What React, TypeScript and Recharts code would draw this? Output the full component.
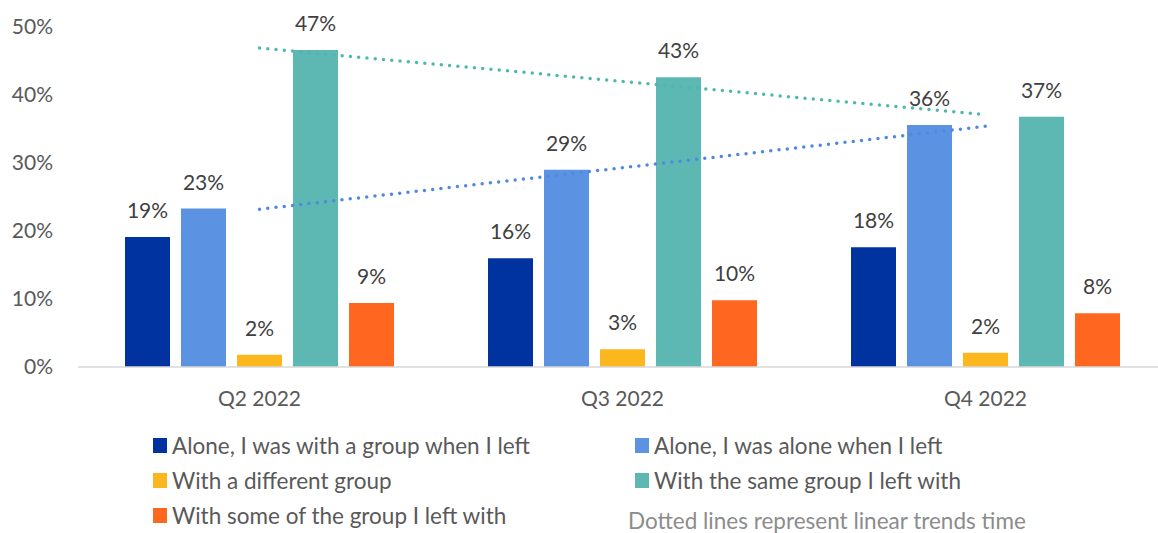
import React from "react";
import { Bar, ComposedChart, LabelList, Line, XAxis, YAxis } from "recharts";

const QUARTERS = ["Q2 2022", "Q3 2022", "Q4 2022"];
const ALONE_FROM_GROUP = [19.1, 16.0, 17.6];
const ALONE_FROM_ALONE = [23.3, 29.0, 35.6];
const DIFFERENT_GROUP = [1.8, 2.6, 2.1];
const SAME_GROUP = [46.6, 42.6, 36.8];
const SOME_OF_GROUP = [9.4, 9.8, 7.9];
// linear trend lines
const TREND_ALONE = [23.2, 29.3, 35.4];
const TREND_SAME = [46.9, 42.0, 37.1];
const Y_TICKS = [0, 10, 20, 30, 40, 50];

const SERIES = [
  { key: "aloneGroup", name: "Alone, I was with a group when I left", color: "#0033A0", values: ALONE_FROM_GROUP },
  { key: "aloneAlone", name: "Alone, I was alone when I left", color: "#5B92E2", values: ALONE_FROM_ALONE },
  { key: "different", name: "With a different group", color: "#FDB71E", values: DIFFERENT_GROUP },
  { key: "same", name: "With the same group I left with", color: "#5DB8B3", values: SAME_GROUP },
  { key: "some", name: "With some of the group I left with", color: "#FF6720", values: SOME_OF_GROUP },
];

const FONT = "Lato, 'Open Sans', sans-serif";

const data = QUARTERS.map((q, i) => {
  const row: Record<string, string | number> = { quarter: q, trendAlone: TREND_ALONE[i], trendSame: TREND_SAME[i] };
  SERIES.forEach((s) => { row[s.key] = s.values[i]; });
  return row;
});

// legend order: two columns, left then right per row
const LEGEND_POS = [
  { left: 153, top: 438 },
  { left: 635, top: 438 },
  { left: 153, top: 473 },
  { left: 635, top: 473 },
  { left: 153, top: 508 },
];

export default function App() {
  return (
    <div style={{ position: "absolute", left: 0, top: 0, width: 1158, height: 533, overflow: "hidden", background: "#fff", fontFamily: FONT }}>
      <ComposedChart
        width={1175}
        height={533}
        data={data}
        margin={{ top: 27, right: 8, bottom: 136, left: 0 }}
        barGap={11}
        barCategoryGap={47}
      >
        <XAxis
          dataKey="quarter"
          height={30}
          axisLine={{ stroke: "#D9D9D9", strokeWidth: 1.5 }}
          tickLine={false}
          tickSize={0}
          tickMargin={24}
          tick={{ fill: "#595959", fontSize: 21, fontFamily: FONT }}
        />
        <YAxis
          domain={[0, 50]}
          ticks={Y_TICKS}
          width={78}
          axisLine={false}
          tickLine={false}
          tickSize={0}
          tickMargin={25}
          tickFormatter={(v) => `${v}%`}
          tick={{ fill: "#595959", fontSize: 21, fontFamily: FONT }}
        />
        {SERIES.map((s) => (
          <Bar key={s.key} dataKey={s.key} name={s.name} fill={s.color} barSize={45} isAnimationActive={false}>
            <LabelList
              dataKey={s.key}
              position="top"
              offset={19}
              formatter={(v: number) => `${Math.round(v)}%`}
              style={{ fill: "#404040", fontSize: 21, fontFamily: FONT }}
            />
          </Bar>
        ))}
        <Line
          dataKey="trendSame"
          stroke="#4FB8AE"
          strokeWidth={3.5}
          strokeDasharray="0 8.3"
          strokeLinecap="round"
          dot={false}
          activeDot={false}
          legendType="none"
          isAnimationActive={false}
        />
        <Line
          dataKey="trendAlone"
          stroke="#4F88E0"
          strokeWidth={3.5}
          strokeDasharray="0 8.3"
          strokeLinecap="round"
          dot={false}
          activeDot={false}
          legendType="none"
          isAnimationActive={false}
        />
      </ComposedChart>
      {SERIES.map((s, i) => (
        <div
          key={s.key}
          style={{ position: "absolute", left: LEGEND_POS[i].left, top: LEGEND_POS[i].top, display: "flex", alignItems: "center", whiteSpace: "nowrap" }}
        >
          <span style={{ width: 14, height: 15, background: s.color, marginRight: 5, display: "inline-block" }} />
          <span style={{ color: "#595959", fontSize: 22.5, lineHeight: "15px" }}>{s.name}</span>
        </div>
      ))}
      <div style={{ position: "absolute", left: 628, top: 512, color: "#8C8C8C", fontSize: 22.5, lineHeight: "18px", whiteSpace: "nowrap" }}>
        Dotted lines represent linear trends time
      </div>
    </div>
  );
}
